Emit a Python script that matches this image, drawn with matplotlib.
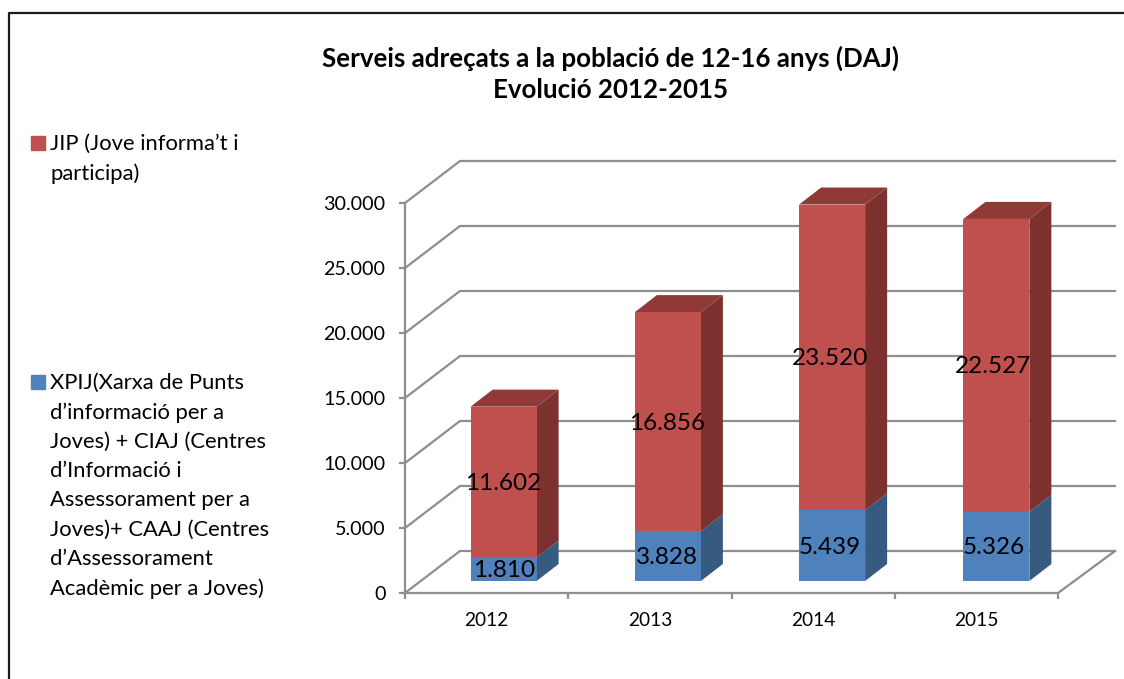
import matplotlib.pyplot as plt
from matplotlib.patches import Rectangle

years = ['2012', '2013', '2014', '2015']
xpij = [1810, 3828, 5439, 5326]
jip = [11602, 16856, 23520, 22527]
y_ticks = [0, 5000, 10000, 15000, 20000, 25000, 30000]
y_tick_labels = ['0', '5.000', '10.000', '15.000', '20.000', '25.000', '30.000']
value_labels_xpij = ['1.810', '3.828', '5.439', '5.326']
value_labels_jip = ['11.602', '16.856', '23.520', '22.527']

title = 'Serveis adreçats a la població de 12-16 anys (DAJ)\nEvolució 2012-2015'
legend_jip = 'JIP (Jove informa’t i\nparticipa)'
legend_xpij = ('XPIJ(Xarxa de Punts\nd’informació per a\nJoves) + CIAJ (Centres\n'
               'd’Informació i\nAssessorament per a\nJoves)+ CAAJ (Centres\n'
               'd’Assessorament\nAcadèmic per a Joves)')

RED, RED_SIDE, RED_TOP = '#c0504d', '#7d312f', '#8f3a37'
BLUE, BLUE_SIDE = '#4f81bd', '#375a80'
GRID = '#8e8e8e'

W, H = 1124, 679
plt.rcParams['font.family'] = ['Lato', 'DejaVu Sans']

fig = plt.figure(figsize=(W / 100, H / 100), dpi=100)
# plot area in pixels: x 405-1058, y 203-593
ax = fig.add_axes([405 / W, 1 - 593 / H, 653 / W, 390 / H])
ax.set_xlim(-0.5, 3.5)
ax.set_ylim(0, 30000)

# pixel sizes to data units
px_x = 4 / 653
px_y = 30000 / 390


def depth_poly(x0, x1, y0, y1, dx, dy, color, z):
    ax.fill([x0, x1, x1 + dx, x0 + dx], [y0, y1, y1 + dy, y0 + dy],
            color=color, lw=0, zorder=z, clip_on=False)


# back wall and floor lines
wall_dx, wall_dy = 55 * px_x, 42 * px_y
for t in y_ticks:
    ax.plot([-0.5, -0.5 + wall_dx, 3.5 + 57 * px_x], [t, t + wall_dy, t + wall_dy],
            color=GRID, lw=1.6, zorder=1, clip_on=False)
ax.plot([3.5, 3.5 + 57 * px_x], [0, wall_dy], color=GRID, lw=1.6, zorder=1, clip_on=False)

# stacked bars, pushed back inside the floor
bar_w = 66 * px_x
bar_off_x, bar_off_y = 17 * px_x, 12 * px_y
side_dx, side_dy = 22 * px_x, 17 * px_y
for i in range(len(years)):
    # the bars drift slightly right of the category step
    xc = i + bar_off_x + i * px_x
    x0 = xc - bar_w / 2
    x1 = x0 + bar_w
    b0 = bar_off_y
    b1 = b0 + xpij[i]
    b2 = b1 + jip[i]
    depth_poly(x1, x1, b0, b1, side_dx, side_dy, BLUE_SIDE, 3)
    depth_poly(x1, x1, b1, b2, side_dx, side_dy, RED_SIDE, 3)
    depth_poly(x0, x1, b2, b2, side_dx, side_dy, RED_TOP, 3)
    ax.bar(xc, xpij[i], bar_w, bottom=b0, color=BLUE, zorder=4, clip_on=False)
    ax.bar(xc, jip[i], bar_w, bottom=b1, color=RED, zorder=4, clip_on=False)
    ax.text(i + bar_off_x, b0 + xpij[i] / 2 - 1.5 * px_y, value_labels_xpij[i], ha='center',
            va='center', fontsize=17.5, color='black', zorder=5)
    ax.text(i + bar_off_x, b1 + jip[i] / 2 - 1.5 * px_y, value_labels_jip[i], ha='center',
            va='center', fontsize=17.5, color='black', zorder=5)

for s in ['top', 'right']:
    ax.spines[s].set_visible(False)
for s in ['left', 'bottom']:
    ax.spines[s].set_color(GRID)
    ax.spines[s].set_linewidth(1.6)
ax.patch.set_alpha(0)
ax.set_yticks(y_ticks)
ax.set_yticklabels(y_tick_labels)
ax.set_xticks([-0.5, 0.5, 1.5, 2.5, 3.5])
ax.set_xticklabels([])
ax.tick_params(axis='both', color=GRID, width=1.6, length=4, direction='out')
ax.tick_params(axis='y', labelsize=14.2, pad=10)
for i, year in enumerate(years):
    ax.annotate(year, (i, 0), xytext=(0, -27), textcoords='offset pixels', ha='center',
                va='center', fontsize=13.8)

# title and legend in figure pixels
fig.text(611 / W, 1 - 74 / H, title, ha='center', va='center', fontsize=18.6,
         fontweight='bold', linespacing=1.34)
fig.patches.append(Rectangle((31 / W, 1 - 150 / H), 14 / W, 14 / H, color=RED,
                             transform=fig.transFigure))
fig.patches.append(Rectangle((31 / W, 1 - 389 / H), 14 / W, 14 / H, color=BLUE,
                             transform=fig.transFigure))
fig.text(50 / W, 1 - 159 / H, legend_jip, ha='left', va='center', fontsize=15.85, linespacing=1.57)
fig.text(50 / W, 1 - 486 / H, legend_xpij, ha='left', va='center', fontsize=15.85, linespacing=1.57)

# frame of the original picture: only top and left edges show
fig.add_artist(plt.Line2D([8.5 / W, 8.5 / W, 1], [0, 1 - 12.5 / H, 1 - 12.5 / H],
                          color='#1a1a1a', lw=1.6))

fig.savefig('out.png', dpi=100)
